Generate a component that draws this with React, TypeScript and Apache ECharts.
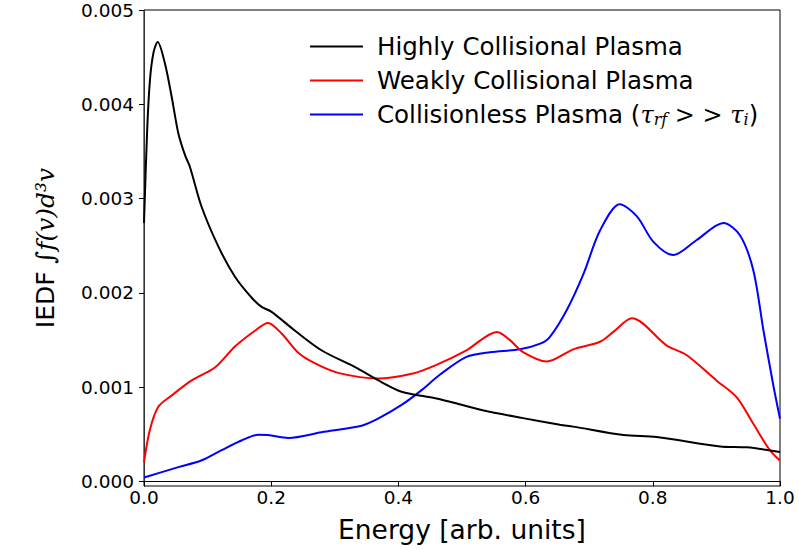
import React, { useEffect, useRef } from "react";
import * as echarts from "echarts";

const seriesNames = [
  "Highly Collisional Plasma",
  "Weakly Collisional Plasma",
  "Collisionless Plasma (τrf > > τi)",
];
const seriesColors = ["#000000", "#ff0000", "#0000ff"];

const xTicks = [0, 0.2, 0.4, 0.6, 0.8, 1.0];
const yTicks = [0, 0.001, 0.002, 0.003, 0.004, 0.005];

const energyHigh = [0, 0.005, 0.0094, 0.015, 0.0215, 0.033, 0.0435, 0.054, 0.0645, 0.072, 0.0907, 0.117, 0.143, 0.169, 0.185, 0.2, 0.237, 0.279, 0.332, 0.374, 0.405, 0.458, 0.489, 0.534, 0.596, 0.654, 0.675, 0.754, 0.806, 0.906, 0.948, 1.0];
const iedfHigh = [2.74e-3, 3.73e-3, 4.26e-3, 4.55e-3, 4.66e-3, 4.43e-3, 4.08e-3, 3.69e-3, 3.46e-3, 3.34e-3, 2.91e-3, 2.49e-3, 2.17e-3, 1.95e-3, 1.85e-3, 1.8e-3, 1.6e-3, 1.39e-3, 1.21e-3, 1.05e-3, 0.95e-3, 0.88e-3, 0.83e-3, 0.75e-3, 0.67e-3, 0.6e-3, 0.58e-3, 0.49e-3, 0.47e-3, 0.37e-3, 0.36e-3, 0.31e-3];

const energyWeak = [0, 0.009, 0.0225, 0.0435, 0.075, 0.112, 0.143, 0.175, 0.195, 0.216, 0.243, 0.269, 0.305, 0.368, 0.421, 0.458, 0.507, 0.555, 0.575, 0.596, 0.633, 0.675, 0.717, 0.738, 0.767, 0.822, 0.853, 0.9, 0.932, 0.958, 0.984, 1.0];
const iedfWeak = [0.2e-3, 0.54e-3, 0.79e-3, 0.91e-3, 1.07e-3, 1.21e-3, 1.43e-3, 1.6e-3, 1.68e-3, 1.57e-3, 1.36e-3, 1.25e-3, 1.15e-3, 1.09e-3, 1.14e-3, 1.23e-3, 1.39e-3, 1.585e-3, 1.5e-3, 1.37e-3, 1.27e-3, 1.4e-3, 1.48e-3, 1.585e-3, 1.73e-3, 1.44e-3, 1.34e-3, 1.07e-3, 0.89e-3, 0.61e-3, 0.33e-3, 0.22e-3];

const energyLess = [0, 0.054, 0.09, 0.122, 0.154, 0.18, 0.195, 0.227, 0.279, 0.342, 0.368, 0.405, 0.437, 0.465, 0.507, 0.544, 0.591, 0.623, 0.638, 0.665, 0.691, 0.717, 0.748, 0.775, 0.801, 0.832, 0.869, 0.911, 0.937, 0.958, 0.974, 0.99, 1.0];
const iedfLess = [0.04e-3, 0.15e-3, 0.22e-3, 0.33e-3, 0.435e-3, 0.495e-3, 0.49e-3, 0.46e-3, 0.52e-3, 0.59e-3, 0.665e-3, 0.81e-3, 0.97e-3, 1.13e-3, 1.32e-3, 1.37e-3, 1.4e-3, 1.46e-3, 1.53e-3, 1.82e-3, 2.2e-3, 2.66e-3, 2.94e-3, 2.81e-3, 2.54e-3, 2.4e-3, 2.56e-3, 2.74e-3, 2.61e-3, 2.24e-3, 1.6e-3, 1.0e-3, 0.665e-3];

const FONT = "DejaVu Sans";

export default function App() {
  const ref = useRef<HTMLDivElement>(null);
  useEffect(() => {
    if (!ref.current) return;
    const chart = echarts.init(ref.current, null, { renderer: "svg" });
    const pairs = [
      [energyHigh, iedfHigh],
      [energyWeak, iedfWeak],
      [energyLess, iedfLess],
    ];
    const series = pairs.map(([xs, ys], i) => ({
      name: seriesNames[i],
      type: "line",
      data: xs.map((x, j) => [x, ys[j]]),
      showSymbol: false,
      smooth: 0.3,
      lineStyle: { color: seriesColors[i], width: 2 },
      itemStyle: { color: seriesColors[i] },
      z: 3 - i,
    }));
    chart.setOption({
      animation: false,
      backgroundColor: "#ffffff",
      textStyle: { fontFamily: FONT },
      grid: {
        left: 144,
        right: 19,
        top: 10,
        bottom: 64,
        show: true,
        borderColor: "#000",
        borderWidth: 1,
      },
      legend: {
        orient: "vertical",
        left: 305,
        top: 29,
        itemWidth: 53,
        itemHeight: 2,
        itemGap: 9,
        icon: "rect",
        data: seriesNames,
        textStyle: {
          fontFamily: FONT,
          fontSize: 24.5,
          color: "#000",
          padding: [0, 0, 0, 9],
          rich: {
            n: { fontFamily: FONT, fontSize: 24.5, color: "#000" },
            m: { fontFamily: "DejaVu Serif", fontStyle: "italic", fontSize: 24, color: "#000" },
            s: { fontFamily: "DejaVu Serif", fontStyle: "italic", fontSize: 16, color: "#000", verticalAlign: "bottom", padding: [10, 0, 0, 0] },
          },
        },
        formatter: (name: string) => {
          if (name === seriesNames[2]) {
            return "{n|Collisionless Plasma (}{m|τ}{s|rf}{m| > > τ}{s|i}{n|)}";
          }
          return "{n|" + name + "}";
        },
      },
      xAxis: {
        type: "value",
        min: 0,
        max: 1,
        interval: 0.2,
        name: "Energy [arb. units]",
        nameLocation: "middle",
        nameGap: 30,
        nameTextStyle: { fontFamily: FONT, fontSize: 26.5, color: "#000" },
        axisLine: { show: true, lineStyle: { color: "#000", width: 1 } },
        axisTick: { show: true, length: 5, inside: false, lineStyle: { color: "#000" } },
        axisLabel: {
          fontFamily: FONT,
          fontSize: 18.5,
          color: "#000",
          margin: 2,
          formatter: (v: number) => v.toFixed(1),
        },
        splitLine: { show: false },
      },
      yAxis: {
        type: "value",
        min: -0.00005,
        max: 0.005,
        name: "{a|IEDF}  {b|∫f(v)d³v}",
        nameLocation: "middle",
        nameGap: 86,
        nameRotate: 90,
        nameTextStyle: {
          rich: {
            a: { fontFamily: FONT, fontSize: 25, color: "#000" },
            b: { fontFamily: "DejaVu Serif", fontStyle: "italic", fontSize: 25, color: "#000" },
          },
        },
        axisLine: { show: true, lineStyle: { color: "#333", width: 1 } },
        axisTick: { show: true, length: 5, inside: false, customValues: yTicks, lineStyle: { color: "#000" } },
        axisLabel: {
          fontFamily: FONT,
          fontSize: 18.5,
          color: "#000",
          margin: 10,
          customValues: yTicks,
          formatter: (v: number) => v.toFixed(3),
        },
        splitLine: { show: false },
      },
      series,
    });
    return () => chart.dispose();
  }, []);
  return (
    <div
      ref={ref}
      style={{ position: "absolute", left: 0, top: 0, width: 799, height: 550 }}
    />
  );
}
